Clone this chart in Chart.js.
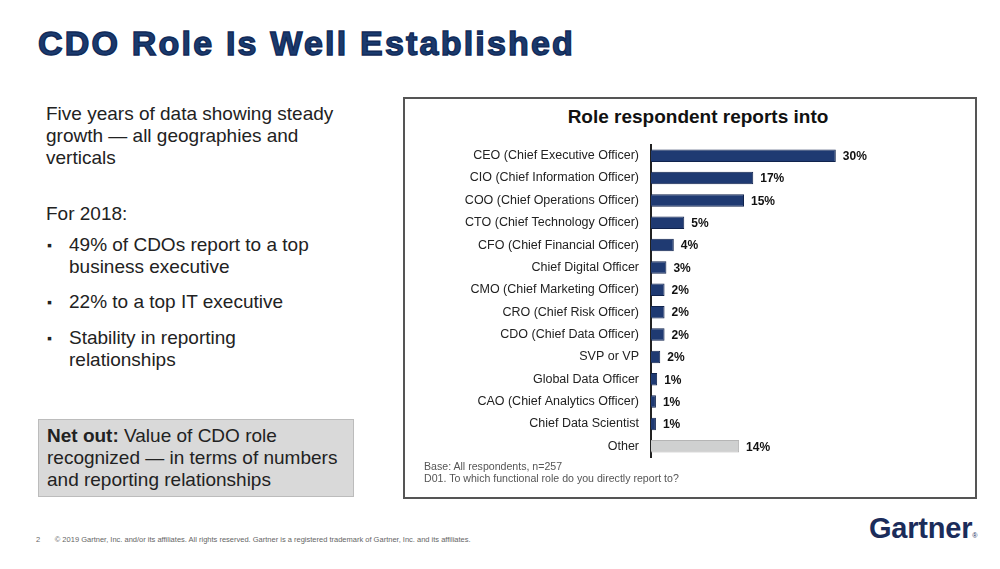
<!DOCTYPE html>
<html>
<head>
<meta charset="utf-8">
<script src="https://cdn.jsdelivr.net/npm/chart.js@4/dist/chart.umd.min.js"></script>
<style>
  body { margin: 0; width: 1000px; height: 569px; background: #fff; position: relative; overflow: hidden;
         font-family: "Liberation Sans", Arial, sans-serif; color: #222; }
  .abs { position: absolute; }
  #title { left: 38px; top: 24px; font-size: 34px; font-weight: bold; color: #1b3a6e;
           -webkit-text-stroke: 1.4px #102a58; letter-spacing: 2.2px; white-space: nowrap; }
  .lt { font-size: 19px; line-height: 22px; color: #222; white-space: nowrap; }
  .bul { left: 46px; }
  .bul span.dot { position: absolute; left: 1px; font-size: 14px; }
  .bul span.txt { position: absolute; left: 23px; white-space: nowrap; }
  #netout { left: 38px; top: 419px; width: 306px; height: 68px; background: #d9d9d9; border: 1px solid #bcbcbc;
            padding: 5px 0 3px 8px; font-size: 19px; line-height: 22px; color: #222; white-space: nowrap; }
  #box { left: 403px; top: 97px; width: 570px; height: 398px; border: 2px solid #555; }
  #ctitle { left: 403px; width: 590px; top: 106px; text-align: center; font-size: 19px; font-weight: bold; color: #111; }
  .fn { left: 424px; font-size: 10.6px; color: #555; white-space: nowrap; }
  #foot { left: 36px; top: 535px; font-size: 7.5px; color: #666; white-space: nowrap; }
  #logo { left: 869px; top: 512px; font-size: 29px; font-weight: bold; color: #1b2c5a; letter-spacing: -0.2px; white-space: nowrap; }
  #wrap { left: 405px; top: 125px; width: 560px; height: 352px; }
</style>
</head>
<body>
<div id="title" class="abs">CDO Role Is Well Established</div>

<div class="abs lt" style="left:46px; top:103px;">Five years of data showing steady<br>growth — all geographies and<br>verticals</div>
<div class="abs lt" style="left:46px; top:203px;">For 2018:</div>
<div class="abs lt bul" style="top:234px;"><span class="dot">▪</span><span class="txt">49% of CDOs report to a top<br>business executive</span></div>
<div class="abs lt bul" style="top:291px;"><span class="dot">▪</span><span class="txt">22% to a top IT executive</span></div>
<div class="abs lt bul" style="top:327px;"><span class="dot">▪</span><span class="txt">Stability in reporting<br>relationships</span></div>

<div id="netout" class="abs"><b>Net out:</b> Value of CDO role<br>recognized — in terms of numbers<br>and reporting relationships</div>

<div id="box" class="abs"></div>
<div id="ctitle" class="abs">Role respondent reports into</div>
<div id="wrap" class="abs"><canvas id="c"></canvas></div>
<div class="abs fn" style="top:460px;">Base: All respondents, n=257</div>
<div class="abs fn" style="top:472px;">D01. To which functional role do you directly report to?</div>

<div id="foot" class="abs">2&nbsp;&nbsp;&nbsp;&nbsp;&nbsp;&nbsp;&nbsp;© 2019 Gartner, Inc. and/or its affiliates. All rights reserved. Gartner is a registered trademark of Gartner, Inc. and its affiliates.</div>
<div id="logo" class="abs">Gartner<span style="font-size:7px; font-weight:normal;">®</span></div>

<script>
const roles = [
  'CEO (Chief Executive Officer)', 'CIO (Chief Information Officer)', 'COO (Chief Operations Officer)',
  'CTO (Chief Technology Officer)', 'CFO (Chief Financial Officer)', 'Chief Digital Officer',
  'CMO (Chief Marketing Officer)', 'CRO (Chief Risk Officer)', 'CDO (Chief Data Officer)',
  'SVP or VP', 'Global Data Officer', 'CAO (Chief Analytics Officer)', 'Chief Data Scientist', 'Other'
];
const shares = [30, 16.6, 15.1, 5.4, 3.7, 2.5, 2.2, 2.2, 2.2, 1.5, 1.0, 0.8, 0.8, 14.3];
const shareLabels = ['30%', '17%', '15%', '5%', '4%', '3%', '2%', '2%', '2%', '2%', '1%', '1%', '1%', '14%'];

const navy = '#1f3a72';
const grey = '#cfd0d0';
const fills = roles.map(r => r === 'Other' ? grey : navy);
const edges = roles.map(r => r === 'Other' ? '#b5b5b5' : '#10234d');

// etiquetas de valor al final de cada barra
const valueLabels = {
  id: 'valueLabels',
  afterDatasetsDraw(chart) {
    const ctx = chart.ctx;
    const meta = chart.getDatasetMeta(0);
    ctx.save();
    ctx.font = 'bold 12px "Liberation Sans", Arial, sans-serif';
    ctx.fillStyle = '#111';
    ctx.textAlign = 'left';
    ctx.textBaseline = 'middle';
    meta.data.forEach((bar, i) => {
      ctx.fillText(shareLabels[i], bar.x + 7, bar.y + 1);
    });
    ctx.restore();
  }
};

new Chart(document.getElementById('c'), {
  type: 'bar',
  data: {
    labels: roles,
    datasets: [{
      data: shares,
      backgroundColor: fills,
      borderColor: edges,
      borderWidth: 1,
      borderSkipped: 'left',
      barPercentage: 0.56,
      categoryPercentage: 1
    }]
  },
  options: {
    indexAxis: 'y',
    responsive: true,
    maintainAspectRatio: false,
    animation: false,
    layout: { padding: { top: 8, bottom: 8, right: 6, left: 0 } },
    plugins: { legend: { display: false }, tooltip: { enabled: false } },
    scales: {
      x: { display: false, min: 0, max: 50 },
      y: {
        grid: { display: false, drawTicks: false },
        border: { display: true, color: '#222', width: 2 },
        ticks: {
          color: '#222',
          padding: 12,
          font: { family: '"Liberation Sans", Arial, sans-serif', size: 12.5 }
        },
        afterFit(scale) { scale.width = 246; }
      }
    }
  },
  plugins: [valueLabels]
});
</script>
</body>
</html>
